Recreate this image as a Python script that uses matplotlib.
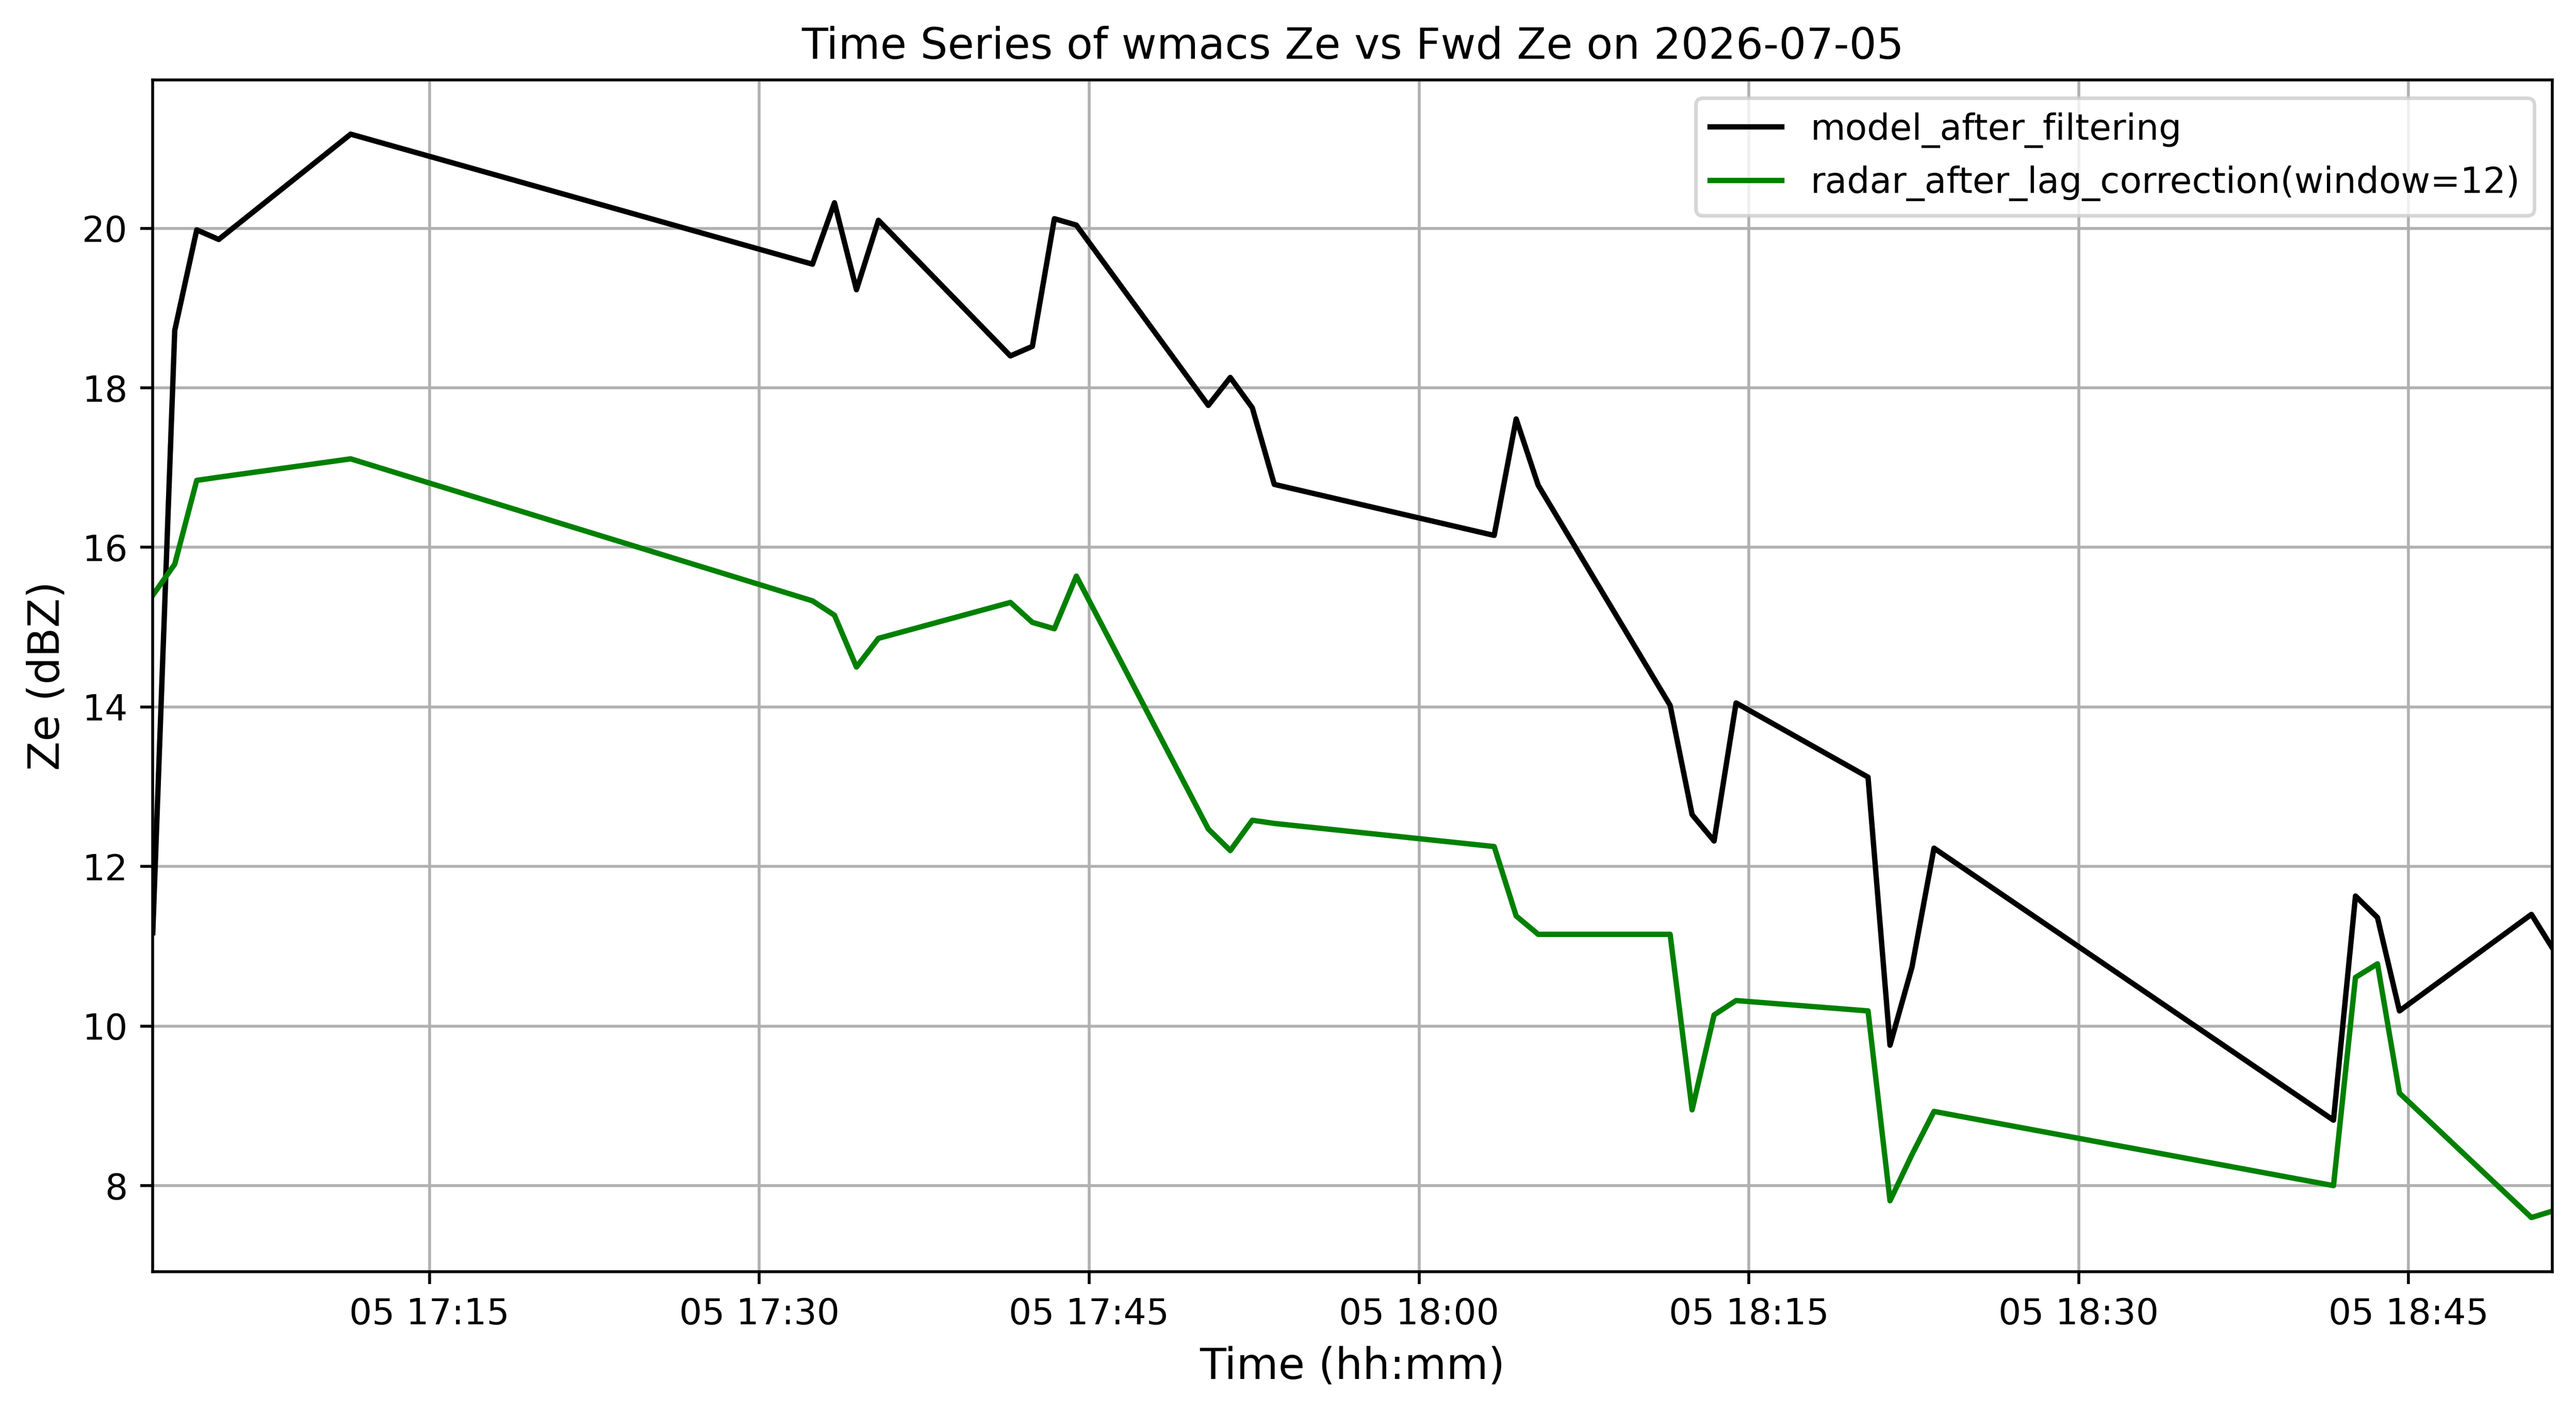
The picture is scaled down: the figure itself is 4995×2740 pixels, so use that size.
import pandas as pd
import matplotlib
matplotlib.use("Agg")
import matplotlib.pyplot as plt

# sample times (hh:mm:ss) on 2026-07-05
times = ["17:02:25", "17:03:25", "17:04:25", "17:05:25", "17:11:25",
         "17:32:25", "17:33:25", "17:34:25", "17:35:25",
         "17:41:25", "17:42:25", "17:43:25", "17:44:25",
         "17:50:25", "17:51:25", "17:52:25", "17:53:25",
         "18:03:25", "18:04:25", "18:05:25",
         "18:11:25", "18:12:25", "18:13:25", "18:14:25",
         "18:20:25", "18:21:25", "18:22:25", "18:23:25",
         "18:41:35", "18:42:35", "18:43:35", "18:44:35",
         "18:50:35", "18:51:32"]

model_ze = [11.17, 18.72, 19.98, 19.86, 21.18,
            19.55, 20.32, 19.23, 20.10,
            18.40, 18.52, 20.12, 20.04,
            17.78, 18.13, 17.75, 16.79,
            16.15, 17.61, 16.78,
            14.02, 12.65, 12.32, 14.05,
            13.12, 9.76, 10.74, 12.23,
            8.82, 11.63, 11.36, 10.19,
            11.40, 10.98]

radar_ze = [15.40, 15.79, 16.84, 16.88, 17.11,
            15.33, 15.15, 14.50, 14.86,
            15.31, 15.06, 14.98, 15.64,
            12.47, 12.20, 12.58, 12.54,
            12.25, 11.38, 11.15,
            11.15, 8.95, 10.14, 10.32,
            10.19, 7.81, 8.39, 8.93,
            8.00, 10.61, 10.78, 9.16,
            7.60, 7.68]

t = pd.to_datetime(["2026-07-05 " + s for s in times])

fig = plt.figure(figsize=(9.99, 5.48), dpi=500)
ax = fig.add_axes([0.0593, 0.1, 0.9315, 0.8434])

ax.plot(t, model_ze, color="black", label="model_after_filtering")
ax.plot(t, radar_ze, color="green", label="radar_after_lag_correction(window=12)")

ax.set_xlim(t[0], t[-1])
ax.set_title("Time Series of wmacs Ze vs Fwd Ze on 2026-07-05", fontsize=12)
ax.set_xlabel("Time (hh:mm)", fontsize=12)
ax.set_ylabel("Ze (dBZ)", fontsize=12)
ax.grid(True)
ax.legend(loc="upper right")

fig.savefig("out.png", dpi=500)
